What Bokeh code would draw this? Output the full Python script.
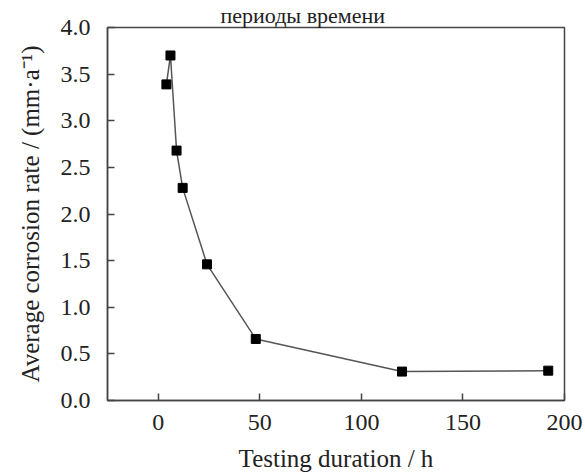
from bokeh.plotting import figure
from bokeh.models import Range1d, FixedTicker, NumeralTickFormatter
from bokeh.embed import file_html
from bokeh.resources import INLINE

hours = [4, 6, 9, 12, 24, 48, 120, 192]
rate = [3.39, 3.70, 2.68, 2.28, 1.46, 0.66, 0.31, 0.32]
x_ticks = [0, 50, 100, 150, 200]
y_ticks = [0.0, 0.5, 1.0, 1.5, 2.0, 2.5, 3.0, 3.5, 4.0]

FONT = "Liberation Serif"
p = figure(width=585, height=474, output_backend="svg", toolbar_location=None,
           x_range=Range1d(-25, 200), y_range=Range1d(0, 4.0),
           min_border_left=107, min_border_right=21, min_border_top=25, min_border_bottom=73)
p.title.text = "периоды времени"
p.title.align = "left"
p.title.offset = 113
p.title.text_font = FONT
p.title.text_font_size = "22px"
p.title.text_font_style = "normal"
p.title.text_color = "#222222"
p.title.standoff = 0

p.background_fill_color = "white"
p.border_fill_color = "white"
p.grid.visible = False
p.outline_line_color = "#444444"
p.outline_line_width = 1.5

p.line(hours, rate, line_color="#555555", line_width=1.5)
p.scatter(hours, rate, marker="square", size=9, fill_color="black", line_color="black")

for ax in (p.xaxis[0], p.yaxis[0]):
    ax.axis_line_color = "#444444"
    ax.axis_line_width = 1.5
    ax.major_tick_in = 7
    ax.major_tick_out = 0
    ax.major_tick_line_color = "#444444"
    ax.major_tick_line_width = 1.5
    ax.minor_tick_line_color = None
    ax.major_label_text_font = FONT
    ax.major_label_text_font_size = "24px"
    ax.major_label_text_color = "#222222"
    ax.axis_label_text_font = FONT
    ax.axis_label_text_font_size = "25px"
    ax.axis_label_text_font_style = "normal"
    ax.axis_label_text_color = "#222222"

p.xaxis.ticker = FixedTicker(ticks=x_ticks)
p.yaxis.ticker = FixedTicker(ticks=y_ticks)
p.yaxis.formatter = NumeralTickFormatter(format="0.0")
p.xaxis.major_label_standoff = 14
p.yaxis.major_label_standoff = 17
p.xaxis.axis_label = "Testing duration / h"
p.yaxis.axis_label = "Average corrosion rate / (mm·a⁻¹)"
p.xaxis.axis_label_standoff = 12
p.yaxis.axis_label_standoff = 14

open("out.html", "w").write(file_html(p, INLINE))
